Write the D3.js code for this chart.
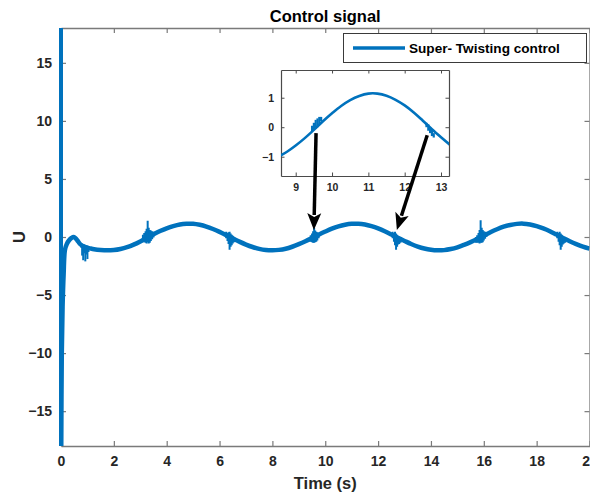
<!DOCTYPE html>
<html>
<head>
<meta charset="utf-8">
<script src="https://cdn.jsdelivr.net/npm/d3@7"></script>
<style>
  html, body { margin: 0; padding: 0; background: #fff; }
  svg { display: block; }
  text { font-family: "Liberation Sans", Arial, sans-serif; font-weight: bold; }
</style>
</head>
<body>
<svg id="chart" width="590" height="495"></svg>
<script>
// ---------------- DATA ----------------
const titleText = "Control signal";
const xLabelText = "Time (s)";
const yLabelText = "U";
const legendText = "Super- Twisting control";

const xTicks = [0, 2, 4, 6, 8, 10, 12, 14, 16, 18, 20];
const yTicks = [-15, -10, -5, 0, 5, 10, 15];
const insetXTicks = [9, 10, 11, 12, 13];
const insetYTicks = [-1, 0, 1];

// initial impulse at t = 0
const impulseT = [0, 0];
const impulseU = [18, -18];

// transient after the impulse
const transientT = [0.01, 0.03, 0.06, 0.1, 0.15, 0.22, 0.3, 0.4, 0.47, 0.54, 0.62, 0.72, 0.82, 0.95, 1.1];
const transientU = [-18, -10, -6, -3.2, -1.1, -0.6, -0.3, -0.08, 0.0, -0.08, -0.3, -0.6, -0.78, -0.9, -0.98];

// steady oscillation of the control signal
const timeS = [1.25, 1.5, 1.75, 2.0, 2.25, 2.5, 2.75, 3.0, 3.25, 3.5, 3.75, 4.0, 4.25, 4.5, 4.75, 5.0, 5.25, 5.5, 5.75, 6.0, 6.25,
  6.5, 6.75, 7.0, 7.25, 7.5, 7.75, 8.0, 8.25, 8.5, 8.75, 9.0, 9.25, 9.5, 9.75, 10.0, 10.25, 10.5, 10.75, 11.0, 11.25, 11.5,
  11.75, 12.0, 12.25, 12.5, 12.75, 13.0, 13.25, 13.5, 13.75, 14.0, 14.25, 14.5, 14.75, 15.0, 15.25, 15.5, 15.75, 16.0,
  16.25, 16.5, 16.75, 17.0, 17.25, 17.5, 17.75, 18.0, 18.25, 18.5, 18.75, 19.0, 19.25, 19.5, 19.75, 20.0];
const controlU = [-1.05, -1.12, -1.15, -1.12, -1.03, -0.88, -0.66, -0.38, -0.06, 0.23, 0.51, 0.75, 0.94, 1.08, 1.14, 1.14, 1.05, 0.90, 0.69, 0.44, 0.16,
  -0.12, -0.40, -0.65, -0.86, -1.02, -1.12, -1.15, -1.11, -1.01, -0.84, -0.62, -0.37, -0.09, 0.20, 0.47, 0.72, 0.92, 1.06, 1.14, 1.14, 1.07,
  0.93, 0.74, 0.50, 0.22, -0.07, -0.34, -0.60, -0.82, -0.99, -1.10, -1.15, -1.13, -1.04, -0.89, -0.68, -0.44, -0.17, 0.12,
  0.41, 0.67, 0.89, 1.04, 1.13, 1.15, 1.08, 0.94, 0.74, 0.50, 0.21, -0.08, -0.36, -0.61, -0.83, -1.0];

// chattering bursts: time, lowest value, highest value
const chatterT  = [0.76, 0.8, 0.84, 0.88, 0.92, 0.96, 1.0, 1.04,
  3.1, 3.15, 3.2, 3.24, 3.28, 3.32, 3.36, 3.4, 3.45, 3.5,
  6.25, 6.3, 6.34, 6.38, 6.42, 6.46, 6.5, 6.55,
  9.45, 9.5, 9.54, 9.58, 9.62, 9.66, 9.7, 9.75,
  12.55, 12.6, 12.64, 12.68, 12.72, 12.76, 12.8, 12.85,
  15.7, 15.75, 15.8, 15.84, 15.88, 15.92, 15.96, 16.0, 16.05, 16.1,
  18.78, 18.83, 18.87, 18.91, 18.95, 18.99, 19.03, 19.08];
const chatterLo = [-0.9, -1.6, -2.0, -1.4, -2.1, -1.5, -1.9, -1.3,
  -0.4, -0.45, -0.5, -0.55, -0.45, -0.55, -0.5, -0.35, -0.2, -0.05,
  -0.1, -0.35, -0.6, -1.1, -0.85, -0.7, -0.55, -0.45,
  -0.4, -0.45, -0.5, -0.5, -0.45, -0.4, -0.3, -0.1,
  -0.1, -0.4, -0.7, -1.1, -0.85, -0.65, -0.6, -0.5,
  -0.5, -0.5, -0.5, -0.55, -0.5, -0.5, -0.45, -0.3, -0.15, 0.0,
  -0.1, -0.4, -0.7, -1.1, -0.85, -0.65, -0.55, -0.5];
const chatterHi = [-0.6, -0.55, -0.6, -0.65, -0.7, -0.7, -0.75, -0.8,
  0.2, 0.35, 0.5, 0.7, 1.4, 0.8, 0.6, 0.55, 0.5, 0.45,
  0.45, 0.35, 0.4, 0.45, 0.3, 0.2, 0.1, 0.0,
  0.15, 0.3, 0.5, 0.8, 0.55, 0.45, 0.4, 0.35,
  0.45, 0.35, 0.45, 0.3, 0.2, 0.05, 0.0, -0.1,
  0.0, 0.15, 0.35, 0.6, 1.45, 0.8, 0.6, 0.5, 0.45, 0.4,
  0.45, 0.35, 0.45, 0.3, 0.2, 0.05, -0.05, -0.15];

// chattering as it appears in the zoomed inset
const insetChatterT  = [9.45, 9.5, 9.55, 9.6, 9.65, 9.7, 12.6, 12.65, 12.7, 12.75, 12.8];
const insetChatterLo = [-0.15, -0.1, -0.05, 0.0, 0.1, 0.2, 0.0, -0.12, -0.2, -0.3, -0.35];
const insetChatterHi = [0.05, 0.15, 0.25, 0.3, 0.35, 0.35, 0.15, 0.1, 0.0, -0.08, -0.2];

// arrows: start in inset coordinates (t,u), end in main coordinates (t,u)
const arrowFromT = [9.56, 12.62];
const arrowFromU = [-0.2, -0.27];
const arrowToT = [9.57, 12.71];
const arrowToU = [0.6, 0.6];

// ---------------- DRAW ----------------
const blue = "#0072BD";
const svg = d3.select("#chart");
svg.append("rect").attr("width", 590).attr("height", 495).attr("fill", "#fff");

const x = d3.scaleLinear().domain([0, 20]).range([61, 589.5]);
const y = d3.scaleLinear().domain([-18, 18]).range([446, 28]);

const axisColor = "#7a7a7a";
const labelColor = "#262626";

svg.append("defs").append("clipPath").attr("id", "mainClip")
  .append("rect").attr("x", x(0) - 3).attr("y", y(18)).attr("width", x(20) - x(0) + 3).attr("height", y(-18) - y(18));

const g = svg.append("g");

// axes: bottom, top, left, right with inward ticks
const tickLen = 5;
const axB = g.append("g").attr("transform", `translate(0,${y(-18)})`)
  .call(d3.axisBottom(x).tickValues(xTicks).tickSizeInner(-tickLen).tickSizeOuter(0).tickPadding(10).tickFormat(d3.format("d")));
const axT = g.append("g").attr("transform", `translate(0,${y(18)})`)
  .call(d3.axisTop(x).tickValues(xTicks).tickSizeInner(-tickLen).tickSizeOuter(0).tickFormat(""));
const axL = g.append("g").attr("transform", `translate(${x(0)},0)`)
  .call(d3.axisLeft(y).tickValues(yTicks).tickSizeInner(-tickLen).tickSizeOuter(0).tickPadding(9).tickFormat(d3.format("d")));
const axR = g.append("g").attr("transform", `translate(${x(20)},0)`)
  .call(d3.axisRight(y).tickValues(yTicks).tickSizeInner(-tickLen).tickSizeOuter(0).tickFormat(""));
[axB, axT, axL, axR].forEach(a => {
  a.select(".domain").attr("stroke", axisColor).attr("stroke-width", 1.3);
  a.selectAll(".tick line").attr("stroke", axisColor).attr("stroke-width", 1.2);
  a.selectAll(".tick text").attr("fill", labelColor).style("font-size", "14px").style("font-family", "'Liberation Sans', Arial, sans-serif").style("font-weight", "bold");
});
axB.selectAll(".tick text").attr("dy", "0.68em");

// data curves
const plot = g.append("g").attr("clip-path", "url(#mainClip)");
const line = d3.line().x(d => x(d[0])).y(d => y(d[1]));
const smooth = d3.line().x(d => x(d[0])).y(d => y(d[1])).curve(d3.curveCatmullRom.alpha(0.5));

plot.append("path").datum(impulseT.map((t, i) => [t, impulseU[i]]))
  .attr("d", line).attr("fill", "none").attr("stroke", blue).attr("stroke-width", 4);

const transientPts = transientT.map((t, i) => [t, transientU[i]]);
const mainPts = timeS.map((t, i) => [t, controlU[i]]);
plot.append("path").datum(transientPts.concat(mainPts))
  .attr("d", smooth).attr("fill", "none").attr("stroke", blue).attr("stroke-width", 4.5).attr("stroke-linejoin", "round");

plot.selectAll("line.chat").data(chatterT).enter().append("line")
  .attr("x1", d => x(d)).attr("x2", d => x(d))
  .attr("y1", (d, i) => y(chatterLo[i])).attr("y2", (d, i) => y(chatterHi[i]))
  .attr("stroke", blue).attr("stroke-width", 2);

// title and labels
svg.append("text").attr("x", (x(0) + x(20)) / 2).attr("y", 22).attr("text-anchor", "middle")
  .style("font-size", "16.5px").attr("fill", "#000").text(titleText);
svg.append("text").attr("x", (x(0) + x(20)) / 2).attr("y", 489).attr("text-anchor", "middle")
  .style("font-size", "16.5px").attr("fill", labelColor).text(xLabelText);
svg.append("text").attr("transform", `translate(25,${y(0)}) rotate(-90)`).attr("text-anchor", "middle")
  .style("font-size", "16.5px").attr("fill", labelColor).text(yLabelText);

// legend
const lg = svg.append("g");
lg.append("rect").attr("x", 343.5).attr("y", 33.5).attr("width", 243).attr("height", 29)
  .attr("fill", "#fff").attr("stroke", "#3a3a3a").attr("stroke-width", 1);
lg.append("line").attr("x1", 353).attr("x2", 405).attr("y1", 48).attr("y2", 48)
  .attr("stroke", blue).attr("stroke-width", 3.5);
lg.append("text").attr("x", 409).attr("y", 53).style("font-size", "13.6px").attr("fill", "#000").text(legendText);

// inset
const xi = d3.scaleLinear().domain([8.595, 13.22]).range([281, 449]);
const yi = d3.scaleLinear().domain([-1.654, 1.94]).range([176, 70]);
const ig = svg.append("g");
ig.append("rect").attr("x", 281).attr("y", 70).attr("width", 168).attr("height", 106).attr("fill", "#fff");
svg.select("defs").append("clipPath").attr("id", "insetClip")
  .append("rect").attr("x", 281).attr("y", 70).attr("width", 168).attr("height", 106);

const insetColor = "#4a4a4a";
const iTick = 3.5;
const iaB = ig.append("g").attr("transform", `translate(0,176)`)
  .call(d3.axisBottom(xi).tickValues(insetXTicks).tickSizeInner(-iTick).tickSizeOuter(0).tickPadding(8).tickFormat(d3.format("d")));
const iaT = ig.append("g").attr("transform", `translate(0,70)`)
  .call(d3.axisTop(xi).tickValues(insetXTicks).tickSizeInner(-iTick).tickSizeOuter(0).tickFormat(""));
const iaL = ig.append("g").attr("transform", `translate(281,0)`)
  .call(d3.axisLeft(yi).tickValues(insetYTicks).tickSizeInner(-iTick).tickSizeOuter(0).tickPadding(7).tickFormat(d3.format("d")));
const iaR = ig.append("g").attr("transform", `translate(449,0)`)
  .call(d3.axisRight(yi).tickValues(insetYTicks).tickSizeInner(-iTick).tickSizeOuter(0).tickFormat(""));
[iaB, iaT, iaL, iaR].forEach(a => {
  a.select(".domain").attr("stroke", insetColor).attr("stroke-width", 1.2);
  a.selectAll(".tick line").attr("stroke", insetColor).attr("stroke-width", 1);
  a.selectAll(".tick text").attr("fill", labelColor).style("font-size", "10.5px").style("font-family", "'Liberation Sans', Arial, sans-serif").style("font-weight", "bold");
});

const iplot = ig.append("g").attr("clip-path", "url(#insetClip)");
const ismooth = d3.line().x(d => xi(d[0])).y(d => yi(d[1])).curve(d3.curveCatmullRom.alpha(0.5));
iplot.append("path").datum(mainPts.filter(d => d[0] >= 8 && d[0] <= 14))
  .attr("d", ismooth).attr("fill", "none").attr("stroke", blue).attr("stroke-width", 2.6);
iplot.selectAll("line.ichat").data(insetChatterT).enter().append("line")
  .attr("x1", d => xi(d)).attr("x2", d => xi(d))
  .attr("y1", (d, i) => yi(insetChatterLo[i])).attr("y2", (d, i) => yi(insetChatterHi[i]))
  .attr("stroke", blue).attr("stroke-width", 2.2);

// arrows
const ag = svg.append("g");
arrowFromT.forEach((t, i) => {
  const x0 = xi(t), y0 = yi(arrowFromU[i]);
  const x1 = x(arrowToT[i]), y1 = y(arrowToU[i]);
  const dx = x1 - x0, dy = y1 - y0, L = Math.hypot(dx, dy);
  const ux = dx / L, uy = dy / L;
  const headL = 17, headW = 7;
  const bx = x1 - ux * headL, by = y1 - uy * headL;
  ag.append("line").attr("x1", x0).attr("y1", y0).attr("x2", bx + ux * 2).attr("y2", by + uy * 2)
    .attr("stroke", "#000").attr("stroke-width", 3.5);
  ag.append("path").attr("d", d3.line()([
    [x1, y1], [bx - uy * headW, by + ux * headW], [bx + ux * 4, by + uy * 4], [bx + uy * headW, by - ux * headW]
  ]) + "Z").attr("fill", "#000");
});
</script>
</body>
</html>
